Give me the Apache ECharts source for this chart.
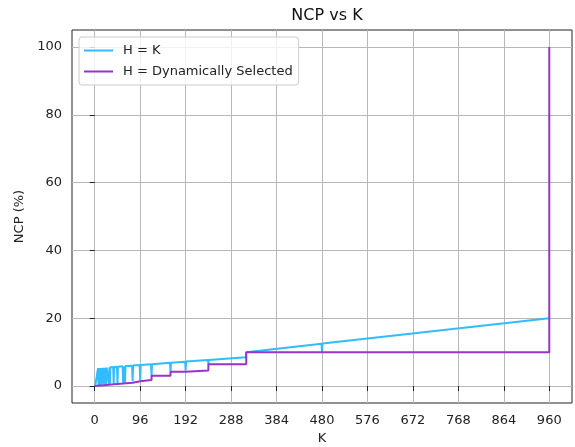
<!DOCTYPE html>
<html>
<head>
<meta charset="utf-8">
<script src="https://cdn.jsdelivr.net/npm/echarts@6/dist/echarts.min.js"></script>
<style>html,body{margin:0;padding:0;background:#fff}#c{width:575px;height:447px}</style>
</head>
<body>
<div id="c"></div>
<script>
const xTicks = [0, 96, 192, 288, 384, 480, 576, 672, 768, 864, 960];
const yTicks = [0, 20, 40, 60, 80, 100];

const blueK = [1,2,3,4,5,6,7,8,9,10,11,12,13,14,15,16,17,19,20,21,23,24,25,29,30,31,32,33,39,40,41,47,48,49,59,60,61,63,64,65,79,80,81,95,96,97,119,120,121,159,160,161,191,192,193,239,240,241,319,320,321,479,480,481,960];
const blueV = [0.02,0.03,0.05,0.06,0.08,0.09,5.27,0.13,5.29,0.16,5.31,0.19,5.34,5.35,0.23,0.25,5.38,5.40,0.31,5.42,5.44,0.38,5.46,5.50,0.47,5.52,0.50,5.54,5.61,0.63,5.63,5.69,0.75,5.71,5.81,0.94,5.84,5.86,1.00,5.88,6.02,1.40,6.04,6.19,1.75,6.21,6.44,3.00,6.46,6.86,4.20,6.88,7.19,4.60,7.21,7.69,6.40,7.71,8.52,10.0,10.05,12.48,10.0,12.52,20.0];

const purpleK = [0,1,2,3,4,5,6,8,10,12,15,16,20,24,30,32,40,48,60,64,80,96,120,160,192,240,320,960];
const purpleV = [0,0.02,0.03,0.05,0.06,0.08,0.09,0.13,0.16,0.19,0.23,0.25,0.31,0.38,0.47,0.50,0.63,0.75,0.94,1.00,1.40,1.75,3.00,4.20,4.60,6.40,10.0,100];

const seriesNames = ['H = K', 'H = Dynamically Selected'];

const font = 'DejaVu Sans';
const chart = echarts.init(document.getElementById('c'), null, {renderer: 'canvas'});
chart.setOption({
  animation: false,
  backgroundColor: '#fff',
  textStyle: {fontFamily: font},
  title: {
    text: 'NCP vs K', left: 322, top: 3, textAlign: 'center',
    textStyle: {fontFamily: font, fontSize: 16, fontWeight: 'normal', color: '#111'}
  },
  grid: {left: 72, right: 3, top: 30, bottom: 44, show: true, borderColor: '#222', borderWidth: 1,
         backgroundColor: 'transparent', containLabel: false, outerBoundsMode: 'none'},
  legend: {
    orient: 'vertical', left: 79, top: 37,
    padding: [6, 6, 6, 5], itemGap: 6, itemWidth: 29, itemHeight: 2, icon: 'rect',
    backgroundColor: 'rgba(255,255,255,0.8)', borderColor: '#cccccc', borderWidth: 1, borderRadius: 3,
    textStyle: {fontFamily: font, fontSize: 13, color: '#222', padding: [0, 0, 0, 5], lineHeight: 15},
    data: seriesNames
  },
  xAxis: {
    type: 'value', min: -48, max: 1008,
    name: 'K', nameLocation: 'middle', nameGap: 29,
    nameTextStyle: {fontFamily: font, fontSize: 13, color: '#222'},
    axisLine: {show: false},
    axisTick: {show: true, customValues: xTicks, length: 5, lineStyle: {color: '#222'}},
    axisLabel: {customValues: xTicks, fontFamily: font, fontSize: 13, color: '#222', margin: 11},
    splitLine: {show: true, customValues: xTicks, lineStyle: {color: '#b8b8b8', width: 1}}
  },
  yAxis: {
    type: 'value', min: -5, max: 105,
    name: 'NCP (%)', nameLocation: 'middle', nameGap: 42,
    nameTextStyle: {fontFamily: font, fontSize: 13, color: '#222'},
    axisLine: {show: false},
    axisTick: {show: true, customValues: yTicks, length: 5, lineStyle: {color: '#222'}},
    axisLabel: {customValues: yTicks, fontFamily: font, fontSize: 13, color: '#222', margin: 10},
    splitLine: {show: true, customValues: yTicks, lineStyle: {color: '#b8b8b8', width: 1}}
  },
  series: [
    {
      name: seriesNames[0], type: 'line', symbol: 'none', z: 2,
      data: blueK.map((k, i) => [k, blueV[i]]),
      lineStyle: {color: '#33bbff', width: 2}, itemStyle: {color: '#33bbff'}
    },
    {
      name: seriesNames[1], type: 'line', symbol: 'none', step: 'end', z: 3,
      data: purpleK.map((k, i) => [k, purpleV[i]]),
      lineStyle: {color: '#9933cc', width: 2}, itemStyle: {color: '#9933cc'}
    }
  ]
});
</script>
</body>
</html>
